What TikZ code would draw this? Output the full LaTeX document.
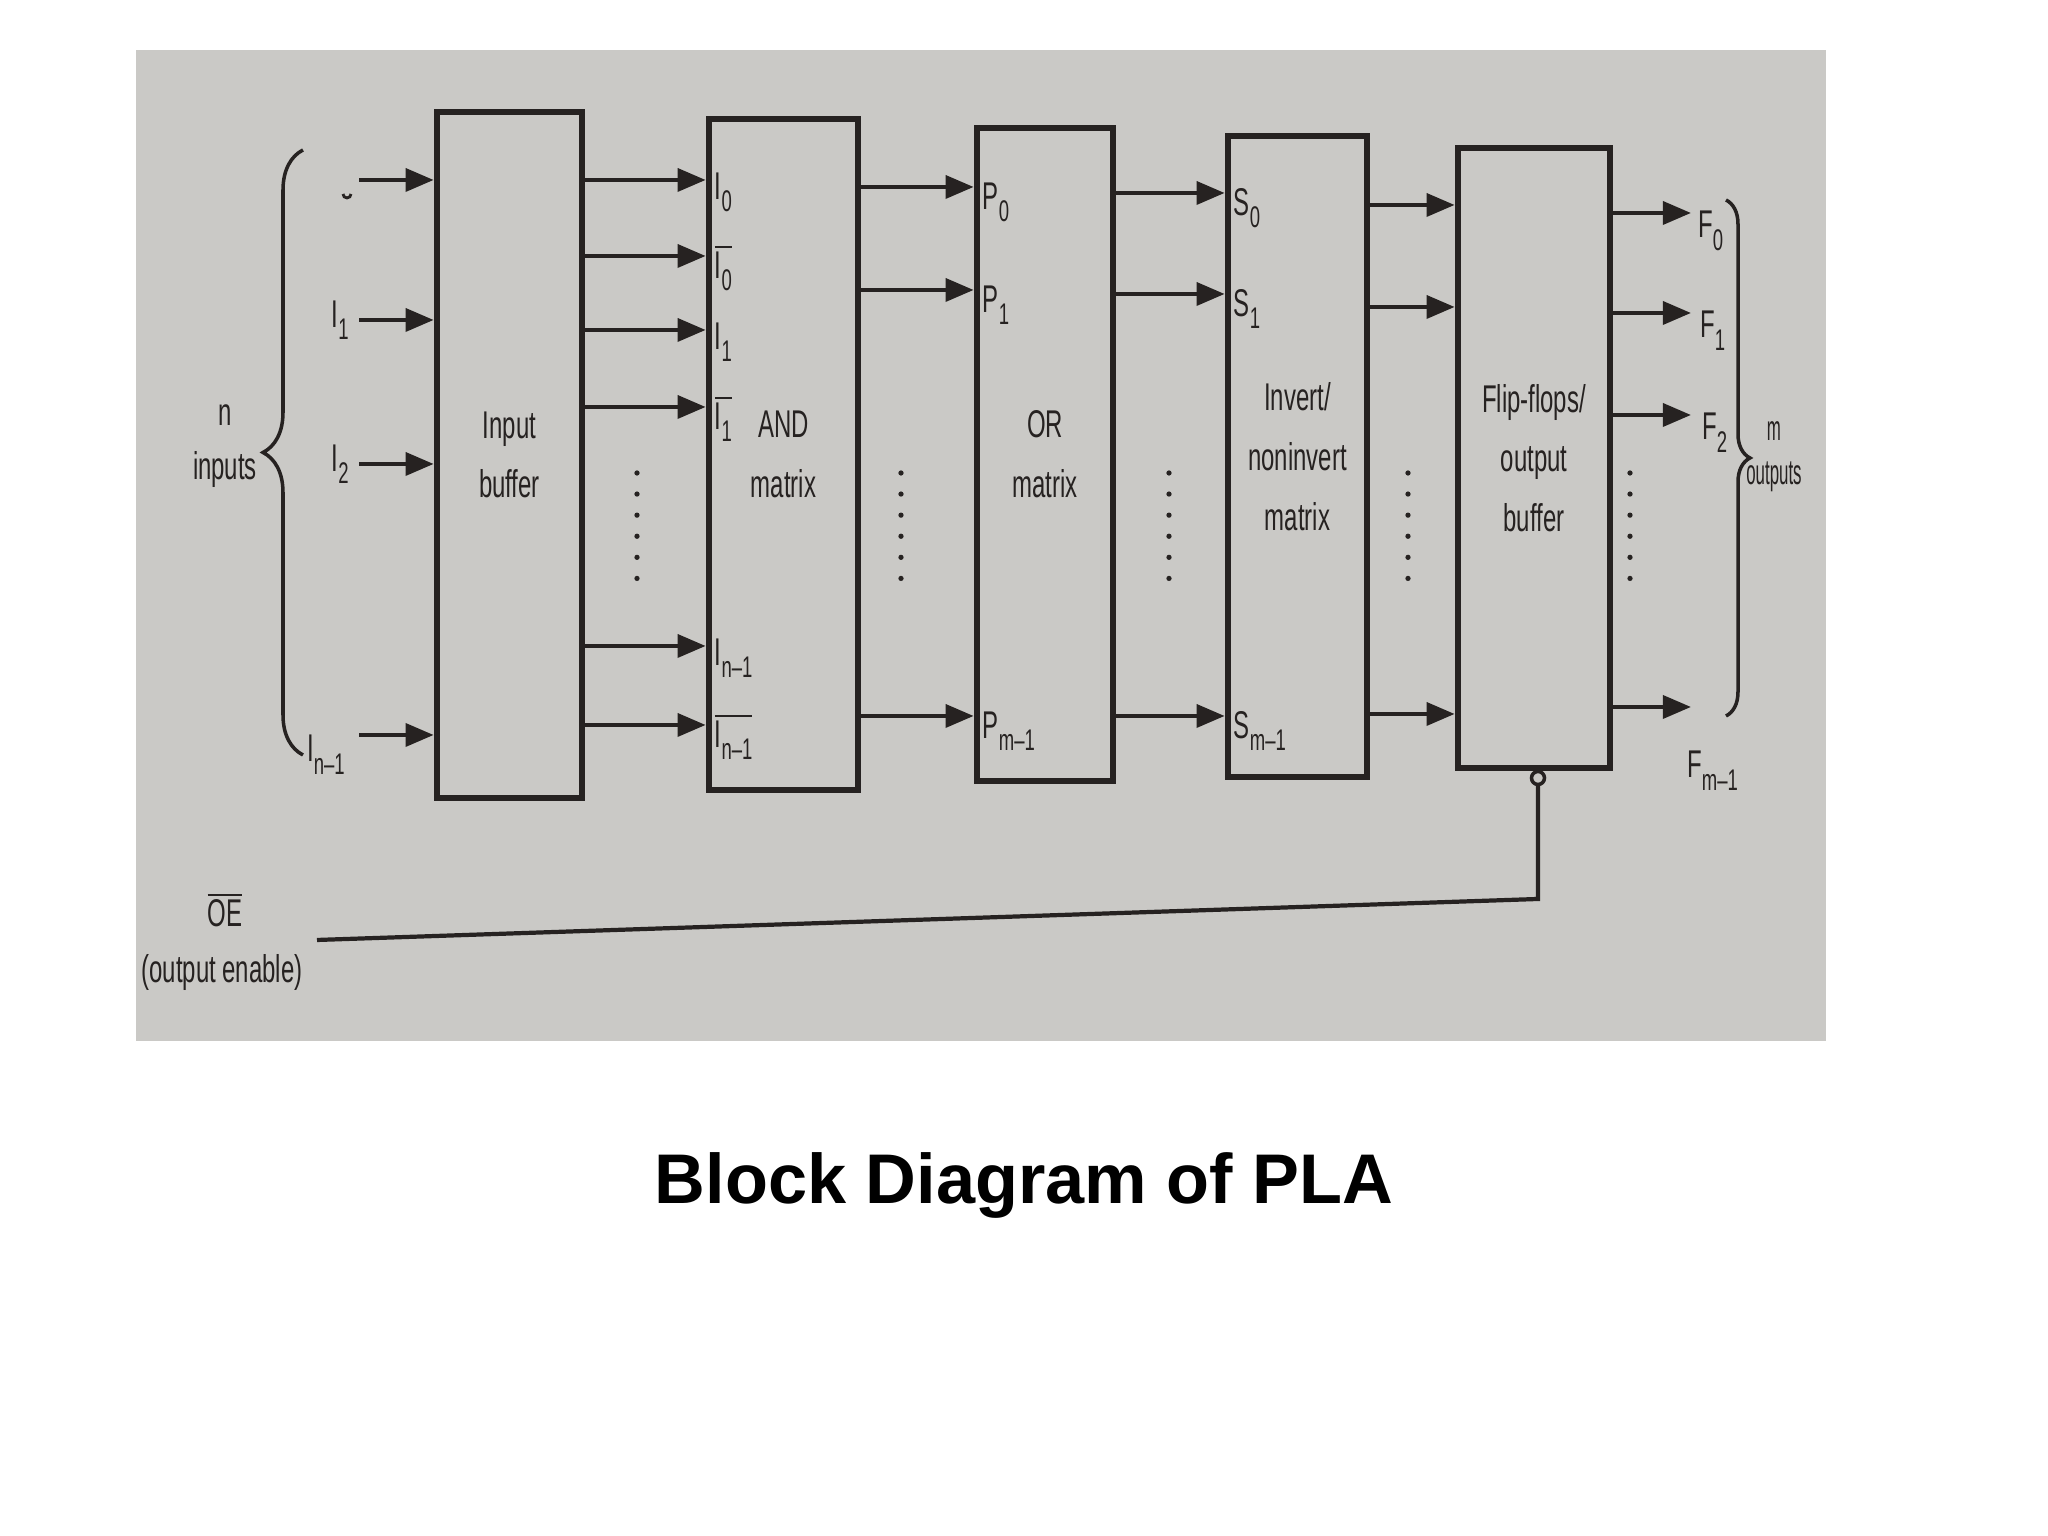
\documentclass[tikz,border=0pt]{standalone}
\usepackage{fontspec}
\setmainfont{Liberation Sans}
\newfontfamily\diagfont{Liberation Sans}[FakeStretch=0.62]
\newfontfamily\narrowfont{Liberation Sans}[FakeStretch=0.48]
\usetikzlibrary{arrows.meta,decorations.pathreplacing,positioning}

\definecolor{paper}{RGB}{202,201,198}
\definecolor{ink}{RGB}{38,34,33}

\newcommand{\ssub}[2]{#1\raisebox{-0.6ex}{\fontsize{8.5}{9}\selectfont #2}}
\newcommand{\nsub}[2]{$\overline{\mbox{\ssub{#1}{#2}}}$}

\tikzset{
  blk/.style={draw=ink, line width=1.9pt, inner sep=0pt},
  sig/.style={draw=ink, line width=1.2pt, -{Triangle[length=8pt,width=6.5pt]}},
  lab/.style={text=ink, font=\diagfont\fontsize{11}{13}\selectfont, inner sep=1pt},
  smlab/.style={text=ink, font=\narrowfont\fontsize{10}{11}\selectfont, inner sep=1pt},
  midtxt/.style={lab, align=center, font=\diagfont\fontsize{11}{17}\selectfont},
  dotcol/.style={draw=ink, line width=1.5pt, line cap=round, dash pattern=on 0pt off 6pt},
  brc/.style={draw=ink, line width=1pt, decorate, decoration={brace, amplitude=#1}},
}

\begin{document}
\begin{tikzpicture}[scale=1]
    \useasboundingbox (0,0) rectangle (20.48,15.36);
    \fill[white] (0,0) rectangle (20.48,15.36);

    % fondo de la foto
    \fill[paper] (1.36,4.95) rectangle (18.26,14.86);

    % bloques
    \node[midtxt, blk, minimum width=1.45cm, minimum height=6.86cm] (inbuf) at (5.095,10.81) {Input\\buffer};
    \node[midtxt, blk, minimum width=1.49cm, minimum height=6.71cm] (andm) at (7.835,10.815) {AND\\matrix};
    \node[midtxt, blk, minimum width=1.36cm, minimum height=6.53cm] (orm) at (10.45,10.815) {OR\\matrix};
    \node[midtxt, blk, minimum width=1.39cm, minimum height=6.41cm] (invm) at (12.975,10.795) {Invert/\\noninvert\\matrix};
    \node[midtxt, blk, minimum width=1.52cm, minimum height=6.20cm] (ffb) at (15.34,10.78) {Flip-flops/\\output\\buffer};

    % entradas
    \foreach \y [count=\i] in {13.56,12.16,10.72,8.01} {
        \coordinate (in\i) at (3.59,\y);
        \draw[sig] (in\i) -- (inbuf.west |- in\i);
    }
    \draw[ink, line width=0.8pt] (3.43,13.42) arc[start angle=180, end angle=360, radius=0.04];
    \node[lab, left=0.06cm of in2] (lin1) {\ssub{I}{1}};
    \node[lab, left=0.06cm of in3] (lin2) {\ssub{I}{2}};
    \node[lab, below left=-0.04cm and 0.1cm of in4] (lin3) {\ssub{I}{n\textendash1}};

    % llave n inputs
    \draw[brc=0.4cm] (3.03,7.81) -- (3.03,13.86);
    \node[lab] (nlab) at (2.25,11.21) {n};
    \node[lab] (inlab) at (2.25,10.66) {inputs};

    % buffer -> AND
    \foreach \y/\lb in {13.56/{\ssub{I}{0}}, 12.80/{\nsub{I}{0}}, 12.06/{\ssub{I}{1}},
                        11.29/{\nsub{I}{1}}, 8.90/{\ssub{I}{n\textendash1}}, 8.11/{\nsub{I}{n\textendash1}}} {
        \draw[sig] (inbuf.east |- 0,\y) -- (andm.west |- 0,\y);
        \node[lab, anchor=west, xshift=0.05cm, yshift=-0.12cm] at (andm.west |- 0,\y) {\lb};
    }

    % AND -> OR
    \foreach \y/\lb in {13.49/{\ssub{P}{0}}, 12.46/{\ssub{P}{1}}, 8.20/{\ssub{P}{m\textendash1}}} {
        \draw[sig] (andm.east |- 0,\y) -- (orm.west |- 0,\y);
        \node[lab, anchor=west, xshift=0.05cm, yshift=-0.15cm] at (orm.west |- 0,\y) {\lb};
    }

    % OR -> invert
    \foreach \y/\lb in {13.43/{\ssub{S}{0}}, 12.42/{\ssub{S}{1}}, 8.20/{\ssub{S}{m\textendash1}}} {
        \draw[sig] (orm.east |- 0,\y) -- (invm.west |- 0,\y);
        \node[lab, anchor=west, xshift=0.05cm, yshift=-0.15cm] at (invm.west |- 0,\y) {\lb};
    }

    % invert -> flip-flops
    \foreach \y in {13.31,12.29,8.22}
        \draw[sig] (invm.east |- 0,\y) -- (ffb.west |- 0,\y);

    % salidas
    \foreach \y [count=\i] in {13.23,12.23,11.21,8.29} {
        \coordinate (f\i) at (16.91,\y);
        \draw[sig] (ffb.east |- f\i) -- (f\i);
    }
    \node[lab, anchor=north west] at ([shift={(0.03,0.06)}]f1) {\ssub{F}{0}};
    \node[lab, anchor=north west] at ([shift={(0.05,0.06)}]f2) {\ssub{F}{1}};
    \node[lab, anchor=north west] at ([shift={(0.07,0.06)}]f3) {\ssub{F}{2}};
    \node[lab, anchor=north west] at ([shift={(-0.08,-0.40)}]f4) {\ssub{F}{m\textendash1}};

    % llave m outputs
    \draw[brc=0.24cm] (17.26,13.36) -- (17.26,8.20);
    \node[smlab] (mlab) at (17.74,11.05) {m};
    \node[smlab] (outlab) at (17.74,10.59) {outputs};

    % puntos
    \foreach \x in {6.37,9.01,11.69,14.08,16.30}
        \draw[dotcol] (\x,10.63) -- (\x,9.52);

    % output enable
    \node[draw=ink, circle, line width=1pt, minimum size=0.13cm, inner sep=0pt] (oeb) at (15.38,7.58) {};
    \coordinate (oec) at (15.38,6.37);
    \coordinate (oel) at (3.17,5.96);
    \draw[ink, line width=1.2pt] (oeb.south) -- (oec) -- (oel);
    \node[lab] (oe) at (2.25,6.26) {$\overline{\mbox{OE}}$};
    \node[lab] (oetxt) at (2.22,5.63) {(output enable)};

    % titulo
    \node[font=\bfseries\fontsize{20}{24}\selectfont] (cap) at (10.24,3.51) {Block Diagram of PLA};

\end{tikzpicture}
\end{document}
